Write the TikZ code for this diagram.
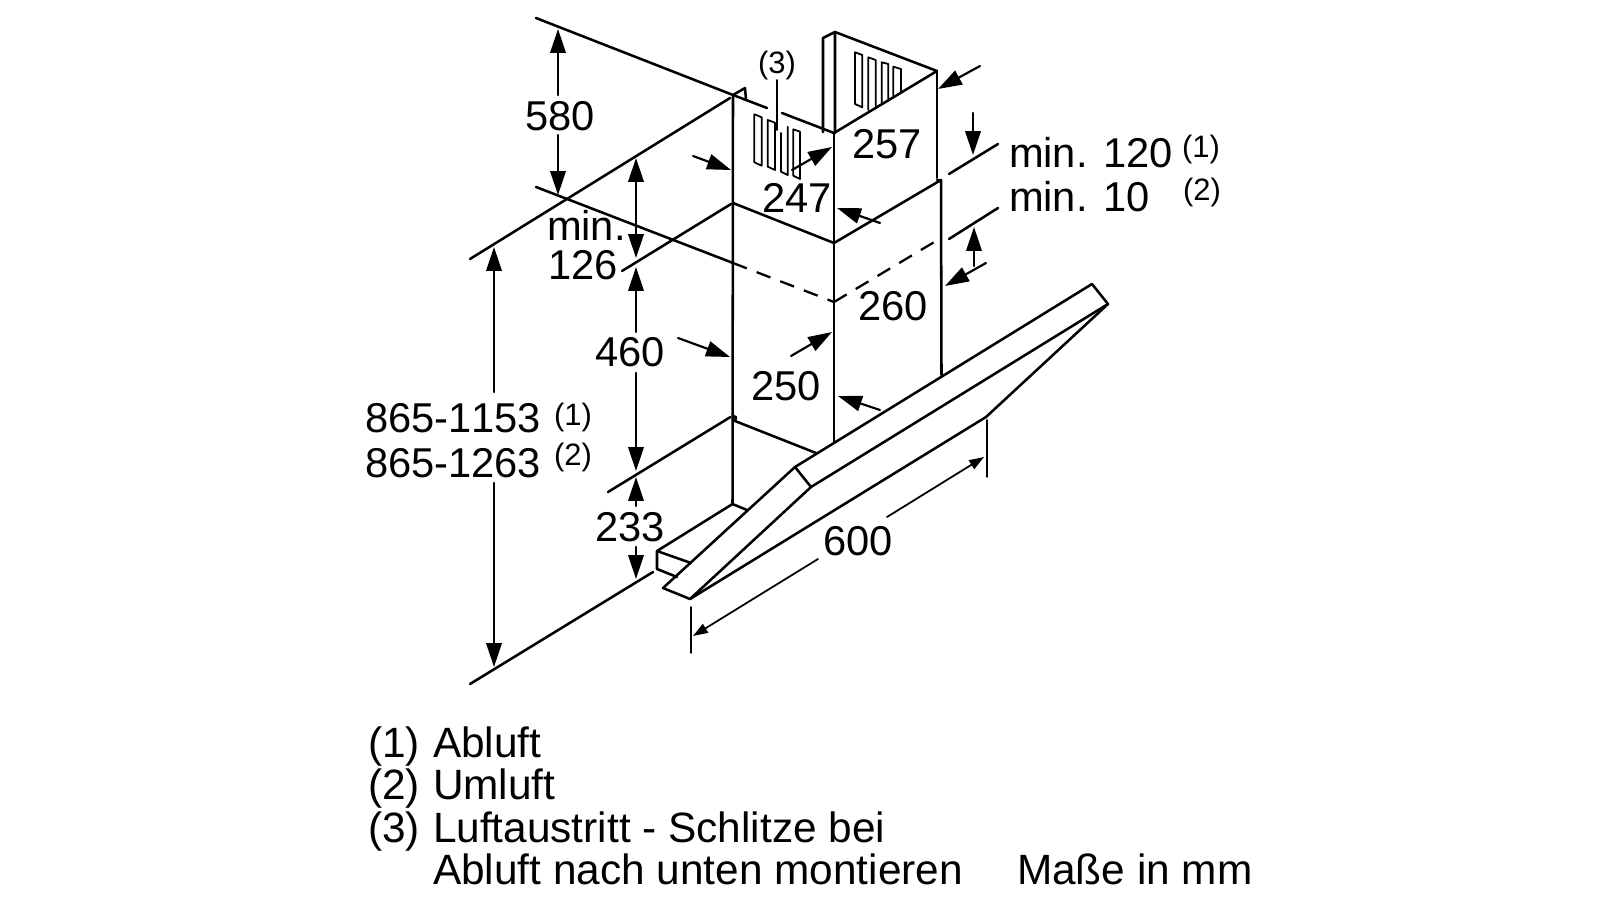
\documentclass[tikz,border=0pt]{standalone}
\usepackage{fontspec}
\setmainfont[Kerning=Off]{Liberation Sans}
\usetikzlibrary{arrows.meta}
\tikzset{
  lab/.style={inner sep=0pt,outer sep=0pt,anchor=base west,font=\fontsize{11.85pt}{14pt}\selectfont},
  legend/.style={inner sep=0pt,outer sep=0pt,anchor=base west,font=\fontsize{12.05pt}{14pt}\selectfont},
  sup/.style={inner sep=0pt,outer sep=0pt,anchor=base west,font=\fontsize{8.8pt}{10pt}\selectfont},
  body/.style={line width=0.72pt,line join=round,line cap=round},
  thin line/.style={line width=0.5pt,line cap=round,line join=round},
  dashline/.style={line width=0.65pt,dash pattern=on 4.2pt off 3pt},
  dim/.style={line width=0.62pt,line cap=round,-{Triangle[length=6.8pt,width=4.4pt]}},
  smalldim/.style={line width=0.5pt,line cap=round,-{Triangle[length=4.2pt,width=2.9pt]}},
}
\begin{document}
\begin{tikzpicture}[x=0.01cm,y=-0.01cm]
\useasboundingbox (0,0) rectangle (1600,900);
% tower key points
\coordinate (tl) at (733,95);
\coordinate (tc) at (834,133);
\coordinate (bk) at (835,32);
\coordinate (tr) at (937,71);
\coordinate (ml) at (733,203);
\coordinate (mc) at (834,243);
\coordinate (mr) at (941,180);
\coordinate (dl) at (733,263);
\coordinate (dc) at (834,302);
\coordinate (dr) at (941,238);
% upper panel
\draw[body] (732.5,504) -- (tl) -- (745,88) -- (746,100);
\draw[body] (tc) -- (834,442);
\draw[body] (tl) -- (767,108);
\draw[body] (782,113) -- (tc);
\draw[body] (823,132) -- (823,38) -- (bk) -- (835,133);
\draw[body] (bk) -- (tr) -- (tc);
\draw[body] (tr) -- (937,178);
% lower panel
\draw[body] (ml) -- (mc) -- (mr) -- (941.5,375);
\draw[body] (937,180) -- (mr);
% dashed level
\draw[dashline] (dl) -- (dc);
\draw[dashline] (dc) -- (dr);
% slots, left panel
\draw[thin line] (754.3,114.3) -- (761.7,117.3) -- (761.7,165.7) -- (754.3,162.3) -- cycle;
\draw[thin line] (767.7,120) -- (775,122.7) -- (775,170) -- (767.7,166.7) -- cycle;
\draw[thin line] (781,133) -- (781,171.7) -- (787.7,175) -- (787.7,126.7);
\draw[thin line] (793.3,129.3) -- (800,131.7) -- (800,179) -- (793.3,175.7) -- cycle;
% slots, right panel
\draw[thin line] (855,52.3) -- (862.3,55) -- (862.3,107.3) -- (855,104) -- cycle;
\draw[thin line] (868.3,110) -- (868.3,57.3) -- (875.7,60) -- (875.7,106);
\draw[thin line] (881.7,103) -- (881.7,62.3) -- (888.3,64) -- (888.3,99);
\draw[thin line] (893.3,96) -- (893.3,66.7) -- (901,69) -- (901,92);
% leader for (3)
\node[sup] (t3) at (758,73) {(3)};
\draw[thin line] (777,80) -- (777,130);
% hood
\coordinate (ha) at (795,467);
\coordinate (hb) at (1092,284);
\coordinate (hc) at (1108,304);
\coordinate (hd) at (811,487);
\coordinate (he) at (986,417);
\coordinate (hf) at (690,599);
\coordinate (hg) at (663,588);
\draw[body] (ha) -- (hb) -- (hc) -- (hd) -- cycle;
\draw[body] (hc) -- (he) -- (hf) -- (hg) -- (ha);
\draw[body] (hd) -- (hf);
% bottom of chimney and duct
\draw[body] (730.5,417) -- (608,492);
\draw[body] (733,416) -- (736,417) -- (735,421) -- (816,453);
\draw[body] (732.5,504) -- (657,551) -- (691,563);
\draw[body] (657,551) -- (657,569) -- (677,577);
\draw[body] (732.5,504) -- (747,510);
% extension lines
\draw[body] (536,18) -- (tl);
\draw[body] (536,187) -- (dl);
\draw[body] (470,259) -- (730,98);
\draw[body] (622,271) -- (731,204);
\draw[body] (470,684) -- (653,572);
\draw[body] (949,174) -- (998,144);
\draw[body] (949,239) -- (998,208);
\draw[thin line] (987,420) -- (987,477);
\draw[thin line] (691,607) -- (691,653);
% vertical dimensions
\draw[dim] (558,95) -- (558,29);
\draw[dim] (558,135) -- (558,195);
\draw[dim,{Triangle[length=6.8pt,width=4.4pt]}-{Triangle[length=6.8pt,width=4.4pt]}] (636,158) -- (636,258);
\draw[dim] (636,332) -- (636,267);
\draw[dim] (636,373) -- (636,471);
\draw[dim] (636,506) -- (636,477);
\draw[dim] (636,547) -- (636,579);
\draw[dim] (494,392) -- (494,247);
\draw[dim] (494,483) -- (494,667);
\draw[dim] (973,113) -- (973,155);
\draw[dim] (974,266) -- (974,227);
% slanted width dimensions
\draw[dim] (980,66) -- (938,89);
\draw[dim] (880,223) -- (837,208);
\draw[dim] (693,156) -- (731,170);
\draw[dim] (792,170) -- (832,147);
\draw[dim] (986,263) -- (945,286);
\draw[dim] (678,338) -- (730,357);
\draw[dim] (791,356) -- (832,332);
\draw[dim] (880,410) -- (838,396);
\draw[smalldim] (887,517) -- (984,457);
\draw[smalldim] (818,559) -- (693,636);
% labels
\node[lab] (a580) at (525,130) {580};
\node[lab] (amin) at (547,240) {min.};
\node[lab] (a126) at (548,279) {126};
\node[lab] (a460) at (595,366) {460};
\node[lab] (a233) at (595,541) {233};
\node[lab] (a1153) at (365,432) {865-1153};
\node[sup] (s1) at (554,425) {(1)};
\node[lab] (a1263) at (365,477) {865-1263};
\node[sup] (s2) at (554,465) {(2)};
\node[lab] (a257) at (852,158) {257};
\node[lab] (a247) at (762,212) {247};
\node[lab] (a260) at (858,320) {260};
\node[lab] (a250) at (751,400) {250};
\node[lab] (a600) at (823,555) {600};
\node[lab] (a120) at (1009,167) {min. 120};
\node[sup] (s3) at (1182,157) {(1)};
\node[lab] (a10) at (1009,211) {min. 10};
\node[sup] (s4) at (1183,200) {(2)};
% legend
\node[legend] (l1) at (368,757) {(1)};
\node[legend] (l1t) at (433,757) {Abluft};
\node[legend] (l2) at (368,799) {(2)};
\node[legend] (l2t) at (433,799) {Umluft};
\node[legend] (l3) at (368,842) {(3)};
\node[legend] (l3t) at (433,842) {Luftaustritt - Schlitze bei};
\node[legend] (l4t) at (433,884) {Abluft nach unten montieren};
\node[legend] (l5t) at (1017,884) {Maße in mm};
\end{tikzpicture}
\end{document}
